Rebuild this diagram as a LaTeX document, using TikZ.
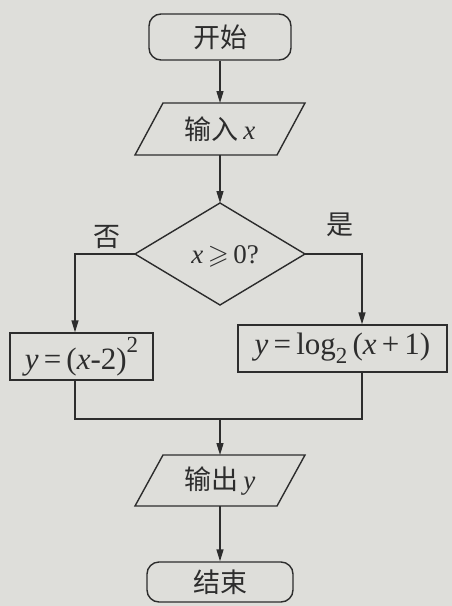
\documentclass[tikz,border=0pt]{standalone}
\usepackage{amssymb}
\usepackage{fontspec}
\setmainfont{Liberation Serif}
\newfontfamily\cjk{Noto Sans CJK SC}
\usetikzlibrary{arrows.meta}
\definecolor{bg}{RGB}{222,222,218}
\definecolor{ink}{RGB}{45,45,45}
\newcommand{\eqs}{\,=\,}
\newcommand{\mysup}[1]{\raisebox{0.55em}{\fontsize{23}{24}\selectfont #1}}
\newcommand{\mysub}[1]{\raisebox{-0.3em}{\fontsize{23}{24}\selectfont #1}}
\tikzset{
  every node/.style={font=\fontsize{27}{30}\selectfont, text=ink},
  ln/.style={draw=ink, line width=1.4pt},
  arr/.style={ln, -{Triangle[length=12pt,width=7pt]}},
  term/.style={ln, rounded corners=12pt, minimum width=142pt, minimum height=46pt, inner sep=0pt},
  procbox/.style={ln, minimum height=47pt, inner sep=0pt, font=\fontsize{31}{34}\selectfont},
  lbl/.style={inner sep=0pt}
}
\begin{document}
\begin{tikzpicture}[x=1pt,y=-1pt]
\fill[bg] (0,0) rectangle (452,606);
\useasboundingbox (0,0) rectangle (452,606);

% start
\node[term] (start) at (220,37) {\cjk 开始};

% input parallelogram
\coordinate (iTL) at (163,103); \coordinate (iTR) at (305,103);
\coordinate (iBR) at (277,155); \coordinate (iBL) at (135,155);
\draw[ln, line join=miter] (iTL) -- (iTR) -- (iBR) -- (iBL) -- cycle;
\node[lbl] (inp) at (220,129) {{\cjk 输入}\,\textit{x}};
\coordinate (iT) at (220,103); \coordinate (iB) at (220,155);

% decision diamond
\coordinate (dT) at (220,203); \coordinate (dR) at (305,254);
\coordinate (dB) at (220,305); \coordinate (dL) at (135,254);
\draw[ln, line join=miter] (dT) -- (dR) -- (dB) -- (dL) -- cycle;
\node[lbl] (dec) at (225,256) {\textit{x}\,$\geqslant$\,0?};

\node[lbl] (no) at (107,237) {\cjk 否};
\node[lbl] (yes) at (340,225) {\cjk 是};

% process boxes
\node[procbox, minimum width=143pt] (lbox) at (81.5,356.5) {\textit{y}\eqs(\textit{x}-2)\mysup{2}};
\node[procbox, minimum width=209pt] (rbox) at (342.5,348.5) {\textit{y}\eqs log\mysub{2}\,(\textit{x}\,+\,1)};

% output parallelogram
\coordinate (oTL) at (163,455); \coordinate (oTR) at (305,455);
\coordinate (oBR) at (277,506); \coordinate (oBL) at (135,506);
\draw[ln, line join=miter] (oTL) -- (oTR) -- (oBR) -- (oBL) -- cycle;
\node[lbl] (outp) at (220,481) {{\cjk 输出}\,\textit{y}};
\coordinate (oT) at (220,455); \coordinate (oB) at (220,506);

% end
\node[term, minimum width=146pt, minimum height=40pt] (stop) at (220,582) {\cjk 结束};

% connectors
\draw[arr] (start.south) -- (iT);
\draw[arr] (iB) -- (dT);
\coordinate (nL) at (75,254);
\coordinate (nR) at (362,254);
\draw[arr] (dL) -- (nL) -- (nL |- lbox.north);
\draw[arr] (dR) -- (nR) -- (nR |- rbox.north);
\coordinate (mL) at (75,419);
\coordinate (mR) at (362,419);
\coordinate (mC) at (220,419);
\draw[ln] (nL |- lbox.south) -- (mL) -- (mR) -- (nR |- rbox.south);
\draw[arr] (mC) -- (oT);
\draw[arr] (oB) -- (stop.north);
\end{tikzpicture}
\end{document}
